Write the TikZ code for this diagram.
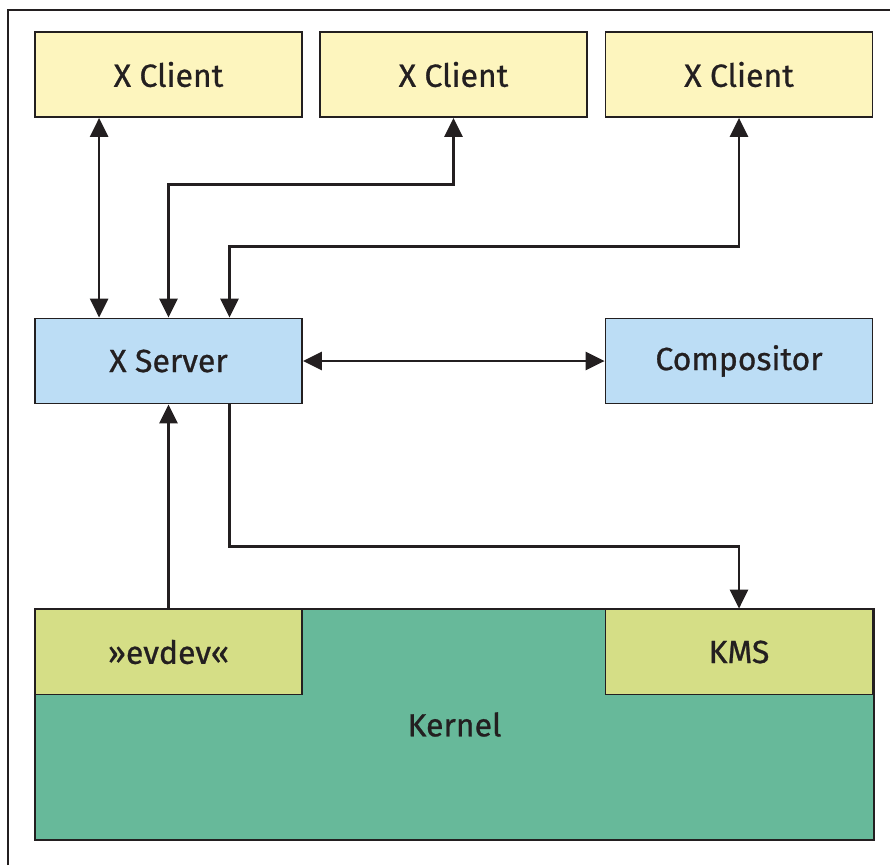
\documentclass[tikz,border=0pt]{standalone}
\usepackage{fontspec}
\setmainfont{Fira Sans}
\newfontfamily\lblfont{Fira Sans}[FakeBold=0.8]
\usepackage{tikz}
\usetikzlibrary{arrows.meta, positioning, calc}
\definecolor{clientfill}{HTML}{FDF5BE}
\definecolor{serverfill}{HTML}{BCDDF5}
\definecolor{kernelfill}{HTML}{67B99A}
\definecolor{modfill}{HTML}{D5DE86}
\definecolor{ink}{HTML}{231F20}
\tikzset{
  blk/.style={rectangle, draw=ink, line width=1.8pt, minimum width=267pt,
              minimum height=85pt, inner sep=0pt, text=ink,
              font=\lblfont\fontsize{32}{36}\selectfont},
  client/.style={blk, fill=clientfill},
  srvbox/.style={blk, fill=serverfill},
  modbox/.style={blk, fill=modfill},
  kernbox/.style={blk, fill=kernelfill, minimum width=839pt, minimum height=231pt},
  arc/.style={-{Triangle[length=19pt, width=18pt]}, line width=2.6pt, draw=ink},
  dbl/.style={arc, {Triangle[length=19pt, width=18pt]}-{Triangle[length=19pt, width=18pt]}}
}

\begin{document}
\begin{tikzpicture}[x=1pt, y=-1pt]
  \useasboundingbox (0,0) rectangle (890,865);
  % frame
  \draw[line width=1.5pt, draw=ink] (8,865) -- (8,10) -- (890,10);
  % clients
  \node[client] (cl1) at (168.5,74.5) {X Client};
  \node[client] (cl2) at (453.5,74.5) {X Client};
  \node[client] (cl3) at (739,74.5) {X Client};
  % server and compositor
  \node[srvbox] (srv) at (168.5,361) {X Server};
  \node[srvbox] (comp) at (739,361) {Compositor};
  % kernel
  \node[kernbox] (kern) at (454.5,724.5) {Kernel};
  \node[modbox] (ev) at (168.5,652) {»evdev«};
  \node[modbox] (kms) at (739,652) {KMS};
  % connections
  \draw[dbl] ($(srv.north west)+(65,0)$) -- ($(cl1.south west)+(65,0)$);
  \draw[dbl] (srv.north) -- ++(0,-133) -| (cl2.south);
  \draw[dbl] ($(srv.north)+(61,0)$) -- ++(0,-71) -| (cl3.south);
  \draw[dbl] (srv.east) -- (comp.west);
  \draw[arc] (ev.north) -- (srv.south);
  \draw[arc] ($(srv.south)+(61,0)$) -- ++(0,142) -| (kms.north);
\end{tikzpicture}
\end{document}
